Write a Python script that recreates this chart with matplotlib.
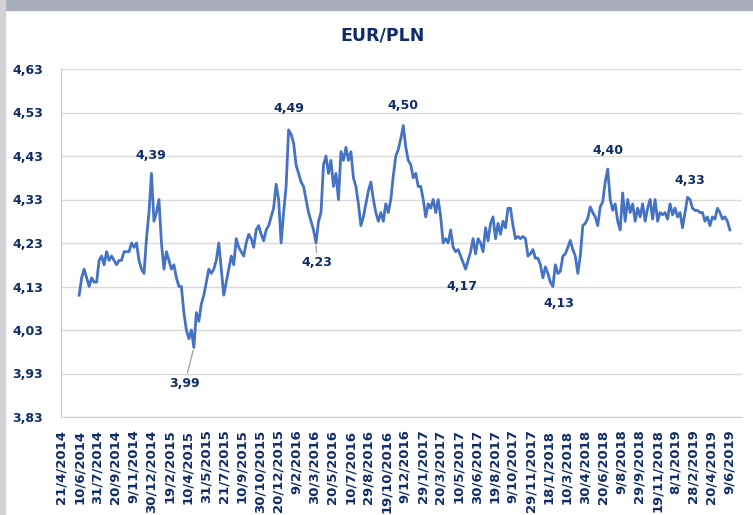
import pandas as pd
import matplotlib
matplotlib.use("Agg")
import matplotlib.pyplot as plt
from matplotlib.patches import Rectangle

NAVY = "#102C68"
BLUE = "#4472C4"

# weekly EUR/PLN readings, 10.06.2014 - 11.06.2019
dates = pd.date_range("2014-06-10", periods=262, freq="7D")
eurpln = [
    4.11, 4.15, 4.17, 4.15, 4.13, 4.15, 4.14, 4.14, 4.19, 4.20,
    4.18, 4.21, 4.19, 4.20, 4.19, 4.18, 4.19, 4.19, 4.21, 4.21,
    4.21, 4.23, 4.22, 4.23, 4.19, 4.17, 4.16, 4.24, 4.30, 4.39,
    4.28, 4.30, 4.33, 4.23, 4.17, 4.21, 4.19, 4.17, 4.18, 4.15,
    4.13, 4.13, 4.07, 4.03, 4.01, 4.03, 3.99, 4.07, 4.05, 4.09,
    4.11, 4.14, 4.17, 4.16, 4.17, 4.19, 4.23, 4.17, 4.11, 4.14,
    4.17, 4.20, 4.18, 4.24, 4.22, 4.21, 4.20, 4.23, 4.25, 4.24,
    4.22, 4.26, 4.27, 4.25, 4.235, 4.26, 4.27, 4.29, 4.31, 4.365,
    4.33, 4.23, 4.30, 4.36, 4.49, 4.48, 4.46, 4.41, 4.39, 4.37,
    4.36, 4.33, 4.30, 4.28, 4.26, 4.23, 4.28, 4.30, 4.41, 4.43,
    4.39, 4.42, 4.36, 4.39, 4.33, 4.44, 4.42, 4.45, 4.42, 4.44,
    4.38, 4.36, 4.32, 4.27, 4.29, 4.32, 4.35, 4.37, 4.33, 4.30,
    4.28, 4.30, 4.28, 4.32, 4.30, 4.33, 4.385, 4.43, 4.445, 4.47,
    4.50, 4.45, 4.42, 4.41, 4.38, 4.39, 4.36, 4.36, 4.33, 4.29,
    4.32, 4.31, 4.33, 4.30, 4.33, 4.29, 4.23, 4.24, 4.23, 4.26,
    4.22, 4.21, 4.215, 4.20, 4.185, 4.17, 4.19, 4.21, 4.24, 4.205,
    4.24, 4.23, 4.21, 4.265, 4.235, 4.275, 4.29, 4.24, 4.275, 4.25,
    4.28, 4.265, 4.31, 4.31, 4.27, 4.24, 4.245, 4.24, 4.245, 4.24,
    4.20, 4.205, 4.215, 4.195, 4.195, 4.18, 4.15, 4.175, 4.16, 4.14,
    4.13, 4.18, 4.16, 4.165, 4.20, 4.205, 4.22, 4.236, 4.215, 4.20,
    4.16, 4.20, 4.27, 4.275, 4.287, 4.313, 4.30, 4.29, 4.27, 4.313,
    4.325, 4.37, 4.40, 4.33, 4.305, 4.32, 4.28, 4.26, 4.345, 4.28,
    4.33, 4.30, 4.32, 4.28, 4.31, 4.29, 4.32, 4.28, 4.31, 4.33,
    4.285, 4.33, 4.28, 4.30, 4.295, 4.30, 4.285, 4.32, 4.295, 4.31,
    4.29, 4.30, 4.265, 4.30, 4.335, 4.33, 4.31, 4.305, 4.305, 4.30,
    4.30, 4.28, 4.29, 4.27, 4.29, 4.285, 4.31, 4.30, 4.285, 4.29,
    4.28, 4.26,
]

tick_labels = [
    "21/4/2014", "10/6/2014", "31/7/2014", "20/9/2014", "9/11/2014", "30/12/2014",
    "19/2/2015", "10/4/2015", "31/5/2015", "21/7/2015", "10/9/2015", "30/10/2015", "20/12/2015",
    "9/2/2016", "30/3/2016", "20/5/2016", "10/7/2016", "29/8/2016", "19/10/2016", "9/12/2016",
    "29/1/2017", "20/3/2017", "10/5/2017", "30/6/2017", "19/8/2017", "9/10/2017", "29/11/2017",
    "18/1/2018", "10/3/2018", "30/4/2018", "20/6/2018", "9/8/2018", "29/9/2018", "19/11/2018",
    "8/1/2019", "28/2/2019", "20/4/2019", "9/6/2019",
]
tick_dates = pd.to_datetime(tick_labels, format="%d/%m/%Y")

y_ticks = [3.83, 3.93, 4.03, 4.13, 4.23, 4.33, 4.43, 4.53, 4.63]

# opisane ekstrema: indeks w serii, tekst, przesuniecie etykiety (px), linia odniesienia
peak_idx = [29, 46, 84, 95, 130, 155, 190, 212, 244]
peak_text = ["4,39", "3,99", "4,49", "4,23", "4,50", "4,17", "4,13", "4,40", "4,33"]
peak_off = [(-1, 18), (-9, -36), (0, 21), (1, -20), (0, 20), (-4, -17), (6, -17), (0, 19), (2, 17)]
leader = [False, True, False, True, False, False, False, False, False]

fig = plt.figure(figsize=(7.53, 5.15), dpi=100)
fig.patches.append(Rectangle((0, 1 - 9.5 / 515), 1, 9.5 / 515, transform=fig.transFigure,
                             color="#A9ADBA", zorder=0))
fig.patches.append(Rectangle((0, 0), 4.5 / 753, 1, transform=fig.transFigure,
                             color="#D3D3D6", zorder=0))

ax = fig.add_axes([61 / 753, 1 - 417 / 515, (742 - 61) / 753, (417 - 69) / 515])
ax.plot(dates, eurpln, color=BLUE, lw=2.0, solid_joinstyle="round")

ax.set_ylim(3.83, 4.63)
ax.set_yticks(y_ticks)
ax.set_yticklabels([f"{v:.2f}".replace(".", ",") for v in y_ticks])
ax.set_xlim(pd.Timestamp("2014-04-20"), pd.Timestamp("2019-07-15"))
ax.set_xticks(tick_dates)
ax.set_xticklabels(tick_labels, rotation=90)

ax.yaxis.grid(True, color="#D9D9D9", lw=1)
ax.set_axisbelow(True)
for s in ["top", "right"]:
    ax.spines[s].set_visible(False)
ax.spines["left"].set_color("#C8C8C8")
ax.spines["bottom"].set_color("#D0D0D0")
ax.tick_params(length=0)
ax.tick_params(axis="y", pad=13)
ax.tick_params(axis="x", pad=9)
for lab in ax.get_yticklabels():
    lab.set_fontsize(9)
    lab.set_fontweight("bold")
    lab.set_color(NAVY)
for lab in ax.get_xticklabels():
    lab.set_fontsize(9.5)
    lab.set_fontweight("bold")
    lab.set_color(NAVY)

for i, txt, off, ld in zip(peak_idx, peak_text, peak_off, leader):
    arrow = dict(arrowstyle="-", color="#A6A6A6", lw=1, shrinkA=1, shrinkB=2) if ld else None
    ax.annotate(txt, xy=(dates[i], eurpln[i]), xytext=off, textcoords="offset pixels",
                ha="center", va="center", fontsize=9, fontweight="bold", color=NAVY,
                arrowprops=arrow)

fig.text(383 / 753, 1 - 35 / 515, "EUR/PLN", ha="center", va="center",
         fontsize=12.5, fontweight="bold", color=NAVY)

fig.savefig("out.png", dpi=100)
